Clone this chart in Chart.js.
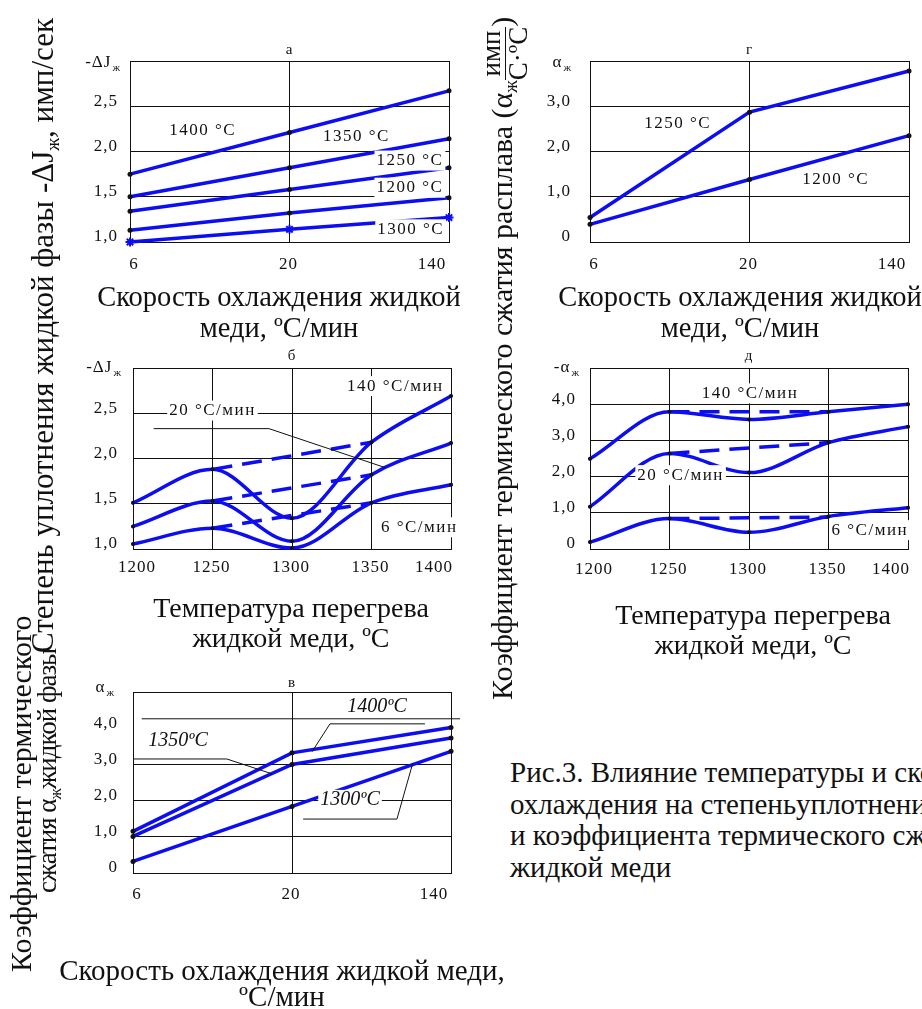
<!DOCTYPE html>
<html lang="ru">
<head>
<meta charset="utf-8">
<script src="https://cdn.jsdelivr.net/npm/chart.js@4.4.1/dist/chart.umd.min.js"></script>
<style>
  html, body { margin: 0; padding: 0; background: #fff; overflow: hidden; }
  body { width: 922px; height: 1009px; position: relative; font-family: "Liberation Serif", "Times New Roman", serif; color: #111; }
  canvas { position: absolute; }
  .t { position: absolute; white-space: nowrap; font-size: 28.5px; line-height: 1; }
  .c { text-align: center; width: 500px; }
  .v { transform-origin: 0 0; transform: rotate(-90deg); }
  sub { font-size: 0.6em; vertical-align: -0.3em; line-height: 0; }
  .frac { display: inline-block; vertical-align: middle; text-align: center; line-height: 0.95; font-size: 0.9em; }
  .frac span { display: block; }
  .frac span:first-child { border-bottom: 1.5px solid #111; }
</style>
</head>
<body>
<canvas id="chartA"></canvas>
<canvas id="chartG"></canvas>
<canvas id="chartB"></canvas>
<canvas id="chartD"></canvas>
<canvas id="chartV"></canvas>

<div class="t v" style="left:27px;top:653px;font-size:31px">Степень уплотнения жидкой фазы -ΔJ<sub>ж</sub>, имп/сек</div>
<div class="t v" style="left:479px;top:700px;font-size:30px">Коэффициент термического сжатия расплава (α<sub>ж</sub><span class="frac"><span>имп</span><span>С·ºС</span></span>)</div>
<div class="t v" style="left:6px;top:972px;font-size:30px">Коэффициент термического</div>
<div class="t v" style="left:34px;top:893px;font-size:27px;letter-spacing:-1px">сжатия α<sub>ж</sub>жидкой фазы</div>

<div class="t c" style="left:29px;top:281px;line-height:31px">Скорость охлаждения жидкой<br>меди, ºС/мин</div>
<div class="t c" style="left:490px;top:281px;line-height:31px">Скорость охлаждения жидкой<br>меди, ºС/мин</div>
<div class="t c" style="left:41px;top:593px;line-height:30px;font-size:28px">Температура перегрева<br>жидкой меди, ºС</div>
<div class="t c" style="left:503px;top:600px;line-height:30px;font-size:28px">Температура перегрева<br>жидкой меди, ºС</div>
<div class="t c" style="left:32px;top:957px;line-height:26px;font-size:29px">Скорость охлаждения жидкой меди,<br>ºС/мин</div>
<div class="t" style="left:510px;top:757px;line-height:31.5px;font-size:29px">Рис.3. Влияние температуры и скорости<br>охлаждения на степеньуплотнения<br>и коэффициента термического сжатия<br>жидкой меди</div>

<script>
'use strict';

Chart.defaults.font.family = '"Liberation Serif", "Times New Roman", serif';
Chart.defaults.font.size = 17;
Chart.defaults.color = '#111';

const blue = '#0d0df2';

// cooling rates (°C/min) and superheat temperatures (°C)
const rates = ['6', '20', '140'];
const temps = [1200, 1250, 1300, 1350, 1400];
const dashTemps = [1250, 1350];

// а: -ΔJж vs cooling rate
const a1400 = [1.75, 2.21, 2.67];
const a1350 = [1.50, 1.82, 2.14];
const a1250 = [1.34, 1.58, 1.82];
const a1200 = [1.13, 1.32, 1.49];
const a1300 = [1.00, 1.14, 1.27];

// г: αж vs cooling rate
const g1250 = [0.54, 2.87, 3.78];
const g1200 = [0.39, 1.38, 2.35];

// б: -ΔJж vs superheat temperature
const b140 = [1.51, 1.88, 1.34, 2.18, 2.69];
const b20 = [1.25, 1.53, 1.085, 1.82, 2.17];
const b6 = [1.055, 1.23, 1.01, 1.51, 1.71];
const b140Dash = [1.88, 2.18];
const b20Dash = [1.53, 1.82];
const b6Dash = [1.23, 1.51];

// д: -αж vs superheat temperature
const d140 = [2.49, 3.79, 3.58, 3.79, 4.0];
const d20 = [1.17, 2.64, 2.11, 2.94, 3.38];
const d6 = [0.19, 0.84, 0.46, 0.90, 1.14];
const d140Dash = [3.79, 3.79];
const d20Dash = [2.64, 2.94];
const d6Dash = [0.84, 0.88];

// в: αж vs cooling rate
const v1400 = [1.15, 3.32, 4.02];
const v1350 = [1.01, 3.00, 3.73];
const v1300 = [0.32, 1.84, 3.36];


// leader lines, curve notes, axis name, panel letter and x labels
const fig = {
  id: 'fig',
  beforeDraw(chart) {
    chart.ctx.letterSpacing = '1px';
  },
  afterDatasetsDraw(chart, args, o) {
    const ctx = chart.ctx;
    const x = chart.scales.x;
    const y = chart.scales.y;
    ctx.save();
    ctx.strokeStyle = '#111';
    ctx.lineWidth = 1;
    (o.leaders || []).forEach(pts => {
      ctx.beginPath();
      pts.forEach((p, i) => {
        const px = x.getPixelForValue(p[0]);
        const py = y.getPixelForValue(p[1]);
        if (i === 0) ctx.moveTo(px, py); else ctx.lineTo(px, py);
      });
      ctx.stroke();
    });
    (o.notes || []).forEach(n => {
      ctx.font = (n.italic ? 'italic 20px' : '17px') + ' "Liberation Serif"';
      ctx.letterSpacing = n.italic ? '0px' : '1.5px';
      const px = x.getPixelForValue(n.x);
      const py = y.getPixelForValue(n.y);
      const w = ctx.measureText(n.text).width;
      ctx.fillStyle = '#fff';
      ctx.fillRect(px - w / 2 - 2, py - 10, w + 4, 20);
      ctx.fillStyle = '#111';
      ctx.textAlign = 'center';
      ctx.textBaseline = 'middle';
      ctx.fillText(n.text, px, py);
    });
    ctx.restore();
  },
  afterDraw(chart, args, o) {
    const ctx = chart.ctx;
    const x = chart.scales.x;
    const a = chart.chartArea;
    ctx.save();
    ctx.fillStyle = '#111';
    ctx.letterSpacing = '1px';
    ctx.textAlign = 'center';
    ctx.textBaseline = 'middle';
    ctx.font = '17px "Liberation Serif"';
    const n = x.ticks.length;
    x.ticks.forEach((t, i) => {
      const shift = i === 0 ? 4 : (i === n - 1 ? -17 : -1);
      ctx.fillText(t.label, x.getPixelForTick(i) + shift, a.bottom + o.labelDy);
    });
    ctx.font = '15px "Liberation Serif"';
    ctx.fillText(o.letter, (a.left + a.right) / 2, a.top + o.letterDy);

    const main = o.axisName[0];
    const sub = o.axisName[1];
    ctx.textAlign = 'left';
    ctx.font = '17px "Liberation Serif"';
    const wm = ctx.measureText(main).width;
    ctx.font = '11px "Liberation Serif"';
    const ws = ctx.measureText(sub).width;
    const end = a.left + o.axisNameDx;
    ctx.fillText(sub, end - ws, a.top + o.axisNameDy + 5);
    ctx.font = '17px "Liberation Serif"';
    ctx.fillText(main, end - ws - wm - 1, a.top + o.axisNameDy);
    ctx.restore();
  }
};

function solid(data, extra) {
  return Object.assign({
    data: data,
    borderColor: blue,
    borderWidth: 3.5,
    borderCapStyle: 'round',
    pointRadius: 2.5,
    pointBackgroundColor: '#111',
    pointBorderWidth: 0,
    clip: false
  }, extra);
}

function curve(data) {
  return solid(data, { cubicInterpolationMode: 'monotone', pointRadius: 2 });
}

function dashed(data) {
  return solid(dashTemps.map((t, i) => ({ x: t, y: data[i] })), {
    borderDash: [20, 10],
    borderCapStyle: 'butt',
    pointRadius: 0
  });
}

function tickText(max) {
  return v => v === max ? '' : (v === 0 ? '0' : v.toFixed(1).replace('.', ','));
}

function makePanel(id, frame, plot, p) {
  const canvas = document.getElementById(id);
  canvas.width = frame.w;
  canvas.height = frame.h;
  canvas.style.left = frame.x + 'px';
  canvas.style.top = frame.y + 'px';

  const hidden = p.hideGrid || [];
  const xAxis = p.temps ? {
    type: 'linear', min: 1200, max: 1400,
    ticks: { display: false, stepSize: 50, callback: v => String(v) }
  } : {
    type: 'category', offset: false,
    ticks: { display: false }
  };
  xAxis.grid = { color: '#111', drawTicks: false };
  xAxis.border = { color: '#111' };
  xAxis.afterFit = s => { s.height = frame.y + frame.h - plot.b; };

  return new Chart(canvas, {
    type: 'line',
    data: { labels: p.temps ? temps : rates, datasets: p.datasets },
    options: {
      responsive: false,
      animation: false,
      devicePixelRatio: 1,
      layout: { padding: { top: plot.t - frame.y, right: frame.x + frame.w - plot.r, left: 0, bottom: 0 } },
      plugins: {
        legend: { display: false },
        tooltip: { enabled: false },
        fig: p.fig
      },
      scales: {
        x: xAxis,
        y: {
          min: p.yMin, max: p.yMax,
          ticks: { stepSize: p.yStep, padding: p.tickPad, labelOffset: -5, callback: tickText(p.yMax) },
          grid: { color: c => hidden.includes(c.tick.value) ? 'rgba(0,0,0,0)' : '#111', drawTicks: false },
          border: { color: '#111' },
          afterFit: s => { s.width = plot.l - frame.x; }
        }
      }
    },
    plugins: [fig]
  });
}

makePanel('chartA', { x: 60, y: 30, w: 420, h: 255 }, { l: 130, t: 61, r: 449, b: 242 }, {
  yMin: 1, yMax: 3, yStep: 0.5, tickPad: 12,
  datasets: [
    solid(a1400), solid(a1350), solid(a1250), solid(a1200),
    solid(a1300, { pointStyle: 'star', pointRadius: 4.5, pointBorderColor: blue, pointBorderWidth: 2 })
  ],
  fig: {
    letter: 'а', letterDy: -11, labelDy: 23,
    axisName: ['-ΔJ', 'ж'], axisNameDx: -9, axisNameDy: 2,
    notes: [
      { text: '1400 °C', x: 0.455, y: 2.235 },
      { text: '1350 °C', x: 1.42, y: 2.16 },
      { text: '1250 °C', x: 1.755, y: 1.90 },
      { text: '1200 °C', x: 1.755, y: 1.60 },
      { text: '1300 °C', x: 1.76, y: 1.14 }
    ]
  }
});

makePanel('chartG', { x: 520, y: 30, w: 402, h: 255 }, { l: 590, t: 61, r: 909, b: 242 }, {
  yMin: 0, yMax: 4, yStep: 1, tickPad: 19,
  datasets: [solid(g1250), solid(g1200)],
  fig: {
    letter: 'г', letterDy: -11, labelDy: 23,
    axisName: ['α', 'ж'], axisNameDx: -18, axisNameDy: 2,
    notes: [
      { text: '1250 °C', x: 0.55, y: 2.61 },
      { text: '1200 °C', x: 1.54, y: 1.39 }
    ]
  }
});

makePanel('chartB', { x: 60, y: 330, w: 420, h: 255 }, { l: 133, t: 368, r: 451, b: 549 }, {
  temps: true, yMin: 1, yMax: 3, yStep: 0.5, tickPad: 15,
  datasets: [
    curve(b140), curve(b20), curve(b6),
    dashed(b140Dash), dashed(b20Dash), dashed(b6Dash)
  ],
  fig: {
    letter: 'б', letterDy: -12, labelDy: 19,
    axisName: ['-ΔJ', 'ж'], axisNameDx: -11, axisNameDy: 0,
    leaders: [[[1213, 2.33], [1285.5, 2.33], [1358.5, 1.90]]],
    notes: [
      { text: '140 °C/мин', x: 1365, y: 2.80 },
      { text: '20 °C/мин', x: 1250, y: 2.53 },
      { text: '6 °C/мин', x: 1380, y: 1.24 }
    ]
  }
});

makePanel('chartD', { x: 520, y: 330, w: 402, h: 255 }, { l: 590, t: 368, r: 908, b: 549 }, {
  temps: true, yMin: 0, yMax: 5, yStep: 1, tickPad: 14,
  datasets: [
    curve(d140), curve(d20), curve(d6),
    dashed(d140Dash), dashed(d20Dash), dashed(d6Dash)
  ],
  fig: {
    letter: 'д', letterDy: -12, labelDy: 21,
    axisName: ['-α', 'ж'], axisNameDx: -10, axisNameDy: 0,
    notes: [
      { text: '140 °C/мин', x: 1300.6, y: 4.30 },
      { text: '20 °C/мин', x: 1257, y: 2.04 },
      { text: '6 °C/мин', x: 1376, y: 0.52 }
    ]
  }
});

makePanel('chartV', { x: 60, y: 660, w: 420, h: 255 }, { l: 133, t: 692, r: 451, b: 873 }, {
  yMin: 0, yMax: 5, yStep: 1, tickPad: 15, hideGrid: [4],
  datasets: [solid(v1400), solid(v1350), solid(v1300)],
  fig: {
    letter: 'в', letterDy: -9, labelDy: 22,
    axisName: ['α', 'ж'], axisNameDx: -18, axisNameDy: -4,
    leaders: [
      [[0.055, 4.26], [2.057, 4.26]],
      [[1.836, 4.12], [1.239, 4.12], [1.126, 3.35]],
      [[0, 3.15], [0.59, 3.15], [0.874, 2.74]],
      [[1.07, 1.49], [1.66, 1.49], [1.76, 3.04]]
    ],
    notes: [
      { text: '1400ºC', x: 1.535, y: 4.59, italic: true },
      { text: '1350ºC', x: 0.283, y: 3.65, italic: true },
      { text: '1300ºC', x: 1.365, y: 2.02, italic: true }
    ]
  }
});
</script>
</body>
</html>
